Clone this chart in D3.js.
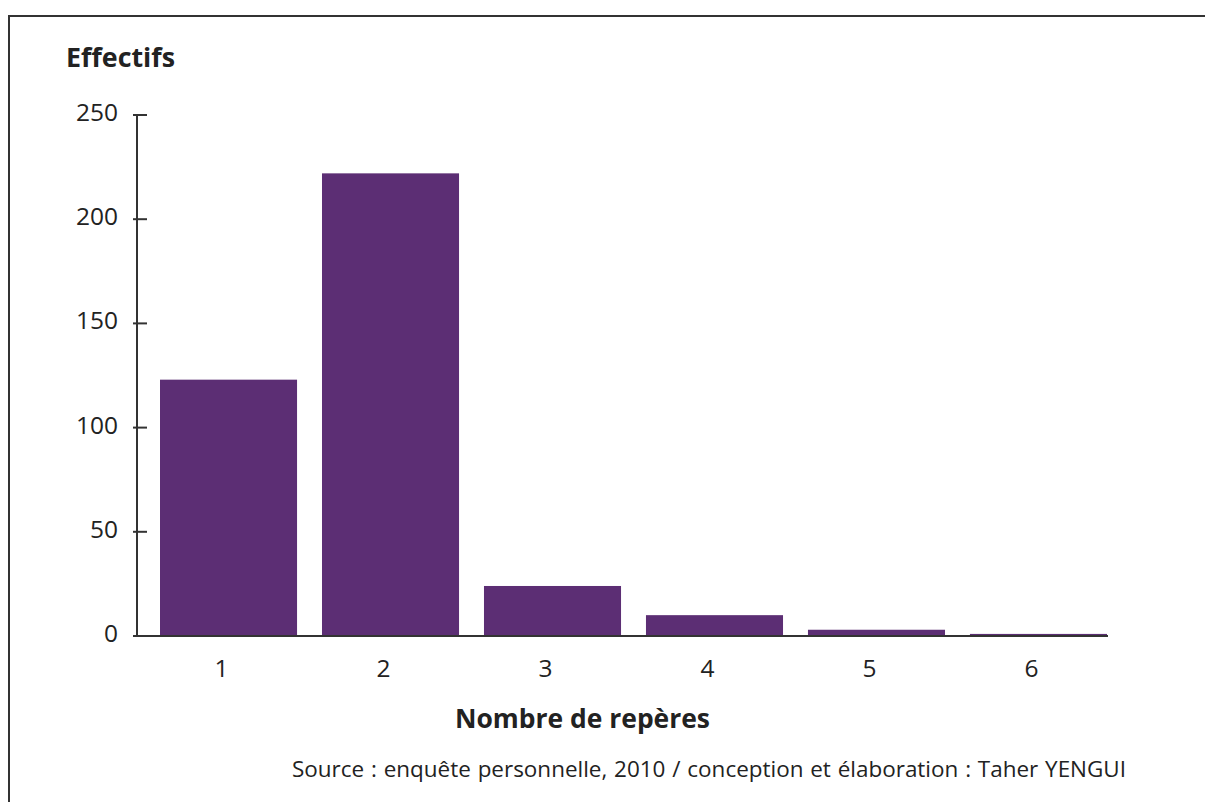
<!DOCTYPE html>
<html><head><meta charset="utf-8">
<script src="https://cdn.jsdelivr.net/npm/d3@7"></script>
<style>body{margin:0;background:#fff}svg{display:block}</style>
</head><body>
<script>
const categories = ["1","2","3","4","5","6"];
const values = [123, 222, 24, 10, 3, 1];
const yTicks = [0, 50, 100, 150, 200, 250];
const yTitle = "Effectifs";
const xTitle = "Nombre de repères";
const source = "Source : enquête personnelle, 2010 / conception et élaboration : Taher YENGUI";

const W = 1205, H = 802;
const svg = d3.select("body").append("svg").attr("width", W).attr("height", H);
svg.append("rect").attr("width", W).attr("height", H).attr("fill", "#fff");
// frame
svg.append("path").attr("d", `M9,${H+5} L9,16 L${W+5},16`).attr("fill","none")
  .attr("stroke","#333").attr("stroke-width",2);

const font = "'Open Sans', 'Noto Sans', sans-serif";
const axisX = 137, y0 = 636, yTop = 115;
const y = d3.scaleLinear().domain([0, 250]).range([y0, yTop]);
const x = d3.scaleBand().domain(categories).range([137, 1130]).paddingInner(0.154).paddingOuter(0.142);

function fit(sel, width) {
  const n = sel.node();
  const fs = parseFloat(sel.attr("font-size"));
  const w = n.getComputedTextLength();
  if (w > 0) sel.attr("font-size", (fs * width / w).toFixed(2));
  return sel;
}

svg.selectAll("rect.bar").data(values).join("rect").attr("class","bar")
  .attr("x", (d,i) => x(categories[i]))
  .attr("width", x.bandwidth())
  .attr("y", d => y(d))
  .attr("height", d => y0 - y(d))
  .attr("fill", "#5c2e74");

// x axis line
svg.append("line").attr("x1", 133).attr("x2", 1108).attr("y1", y0).attr("y2", y0)
  .attr("stroke","#333").attr("stroke-width",2);
// y axis
svg.append("line").attr("x1", axisX).attr("x2", axisX).attr("y1", yTop).attr("y2", y0)
  .attr("stroke","#333").attr("stroke-width",2);
svg.selectAll("line.tick").data(yTicks).join("line").attr("class","tick")
  .attr("x1", 133).attr("x2", 147).attr("y1", d => y(d)).attr("y2", d => y(d))
  .attr("stroke","#333").attr("stroke-width",2);
svg.selectAll("text.ytl").data(yTicks).join("text").attr("class","ytl")
  .attr("x", 118).attr("y", d => y(d) + 6)
  .attr("text-anchor","end").attr("font-family",font).attr("font-size",24.5).attr("fill","#222")
  .text(d => d);
svg.selectAll("text.xtl").data(categories).join("text").attr("class","xtl")
  .attr("x", d => x(d) + x.bandwidth()/2 - 7).attr("y", 677)
  .attr("text-anchor","middle").attr("font-family",font).attr("font-size",24.5).attr("fill","#222")
  .text(d => d);

fit(svg.append("text").attr("x", 66).attr("y", 67).attr("font-family",font).attr("font-weight","bold")
  .attr("font-size",24).attr("fill","#222").text(yTitle), 109);
fit(svg.append("text").attr("x", 455).attr("y", 728).attr("font-family",font)
  .attr("font-weight","bold").attr("font-size",26).attr("fill","#222").text(xTitle), 255);
fit(svg.append("text").attr("x", 292).attr("y", 777).attr("font-family",font)
  .attr("font-size",21).attr("fill","#222").attr("word-spacing", 1).text(source), 835);
</script>
</body></html>
